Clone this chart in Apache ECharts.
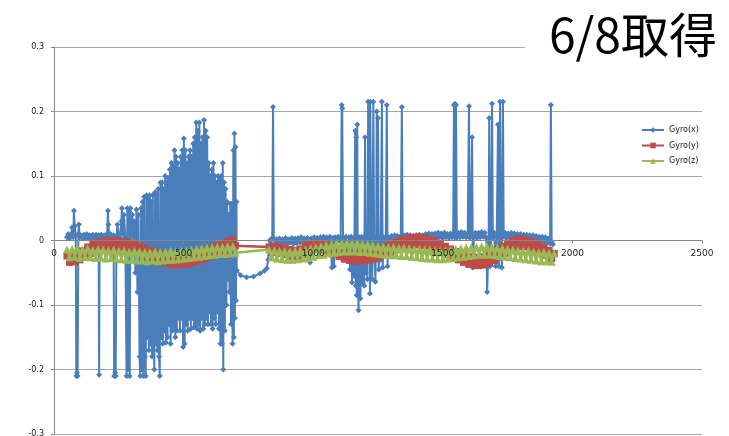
<!DOCTYPE html>
<html>
<head>
<meta charset="utf-8">
<script src="https://cdn.jsdelivr.net/npm/echarts@6/dist/echarts.min.js"></script>
<style>html,body{margin:0;padding:0;background:#fff;}#c{width:729px;height:436px;}</style>
</head>
<body>
<div id="c"></div>
<script>
// ---- data ----
var titleText = '6/8取得';
var seriesNames = ['Gyro(x)', 'Gyro(y)', 'Gyro(z)'];
var xTicks = [0, 500, 1000, 1500, 2000, 2500];
var yTicks = [-0.3, -0.2, -0.1, 0, 0.1, 0.2, 0.3];

// Gyro(x): [sample, value]
var gyroX = [
[50,0.005],[55,0.01],[60,0.003],[65,0.008],[70,0.02],[74,0.005],[77,0.046],[80,0.022],[84,0.008],[86,-0.21],[89,-0.205],[91,-0.21],[94,0.01],[96,0.025],[99,0.005],[104,0.008],[110,0.003],[115,0.009],[120,0.004],[126,0.01],[132,0.003],[138,0.008],[144,0.004],[150,0.009],[156,0.003],[162,0.009],[168,0.004],[172,0.008],[174,-0.208],[176,0.005],[182,0.009],[188,0.003],[194,0.008],[200,0.004],[205,0.01],[208,0.046],[210,0.025],[213,0.006],[218,0.01],[224,0.003],[230,0.008],[232,-0.21],[236,-0.205],[238,-0.21],[241,0.006],[245,0.025],[250,0.01],[255,0.004],[260,0.03],[262,0.05],[265,0.01],[270,0.04],[275,0.005],[280,-0.21],[283,0.05],[286,-0.2],[289,0.045],[292,-0.21],[295,0.05],[298,0.01],[302,0.04],[306,0.005],[310,0.03],[314,-0.05],[318,0.048],[322,-0.08],[326,0.04],[330,-0.18],[333,-0.21],[336,0.05],[339,-0.2],[342,0.06],[345,-0.21],[348,0.068],[351,-0.18],[354,-0.21],[357,0.07],[360,-0.15],[363,0.065],[366,-0.17],[369,0.07],[372,-0.16],[375,0.06],[378,-0.18],[381,0.07],[384,-0.12],[387,-0.2],[390,0.075],[393,-0.16],[396,0.07],[399,-0.17],[402,0.08],[405,-0.18],[408,-0.21],[411,0.09],[414,-0.15],[417,0.09],[420,-0.16],[423,0.08],[426,-0.14],[429,0.1],[432,-0.158],[435,0.09],[438,-0.15],[441,0.097],[444,-0.13],[447,0.11],[450,-0.16],[453,0.12],[456,-0.14],[459,0.115],[462,-0.135],[465,0.14],[468,-0.15],[471,0.13],[474,-0.14],[477,0.12],[480,-0.12],[483,0.11],[486,-0.14],[489,0.13],[492,-0.12],[495,0.14],[498,-0.165],[501,0.158],[504,-0.16],[507,0.14],[510,-0.13],[513,0.12],[516,-0.14],[519,0.13],[522,-0.12],[525,0.14],[528,-0.137],[531,0.13],[534,-0.12],[537,0.15],[540,-0.135],[543,0.16],[546,-0.13],[549,0.183],[552,-0.137],[555,0.17],[558,-0.13],[561,0.183],[564,-0.14],[567,0.15],[570,-0.12],[573,0.16],[576,-0.137],[579,0.187],[582,-0.13],[585,0.17],[588,-0.12],[591,0.16],[594,-0.13],[597,0.12],[600,-0.11],[603,0.1],[606,-0.13],[609,0.11],[612,-0.137],[615,0.12],[618,-0.12],[621,0.1],[624,-0.13],[627,0.09],[630,-0.11],[633,0.1],[636,-0.137],[639,0.096],[642,-0.16],[645,0.1],[648,-0.16],[651,0.12],[653,-0.2],[656,0.09],[659,-0.14],[662,0.08],[665,-0.1],[668,0.06],[671,-0.06],[674,0.04],[677,-0.08],[680,0.057],[683,-0.13],[686,0.057],[689,-0.16],[692,0.14],[694,-0.15],[696,0.166],[698,-0.12],[700,0.145],[702,-0.093],[704,0.06],
[705,-0.046],[720,-0.054],[743,-0.057],[770,-0.056],[795,-0.051],[812,-0.047],[821,-0.043],[826,-0.03],[829,-0.01],
[832,0.0],[838,-0.006],[842,0.004],[845,0.207],[848,0.003],[852,-0.008],[858,0.002],[864,-0.005],[870,0.003],[876,-0.01],[882,0.002],[888,-0.004],[894,0.004],[900,-0.006],[906,0.002],[912,-0.003],[918,0.004],[924,-0.005],[930,0.003],[936,-0.004],[942,0.004],[948,-0.003],[954,0.005],[960,-0.004],[966,0.003],[972,-0.006],[978,0.004],[984,-0.01],[988,-0.034],[992,0.003],[998,-0.004],[1004,0.005],[1010,-0.003],[1016,0.004],[1022,-0.004],[1028,0.005],[1034,-0.003],[1040,0.006],[1046,-0.002],[1052,0.005],[1058,-0.003],[1064,0.006],[1068,-0.01],[1072,-0.042],[1076,0.004],[1080,-0.04],[1084,0.005],[1090,-0.002],[1096,0.006],[1102,0.0],[1106,0.005],[1110,0.21],[1112,0.205],[1115,0.004],[1120,-0.003],[1126,0.006],[1132,-0.02],[1138,0.005],[1142,-0.045],[1146,0.006],[1150,-0.065],[1154,0.004],[1158,-0.055],[1162,0.17],[1164,-0.07],[1166,0.16],[1168,-0.085],[1170,0.18],[1172,-0.06],[1175,-0.108],[1178,0.005],[1182,-0.09],[1186,0.006],[1190,-0.065],[1194,0.005],[1197,-0.07],[1200,0.16],[1203,-0.05],[1206,0.006],[1209,-0.06],[1212,0.215],[1214,-0.03],[1216,0.2],[1219,-0.082],[1220,0.215],[1224,0.004],[1228,-0.06],[1232,0.215],[1235,0.005],[1240,-0.064],[1243,0.006],[1245,0.2],[1247,-0.03],[1250,0.19],[1253,-0.045],[1256,0.006],[1260,-0.03],[1265,0.215],[1268,-0.042],[1272,0.005],[1276,-0.02],[1280,0.004],[1284,0.21],[1287,-0.04],[1290,0.005],[1296,0.0],[1302,0.007],[1308,0.001],[1314,0.008],[1320,0.002],[1326,0.007],[1332,0.001],[1338,0.007],[1342,0.207],[1345,0.003],[1350,0.008],[1356,0.002],[1362,0.009],[1368,0.002],[1374,0.008],[1380,0.001],[1386,0.007],[1392,0.002],[1398,0.008],[1404,0.003],[1410,0.009],[1416,0.002],[1422,0.008],[1428,0.003],[1434,0.01],[1440,0.004],[1446,0.011],[1452,0.004],[1458,0.01],[1464,0.003],[1470,0.011],[1476,0.004],[1482,0.012],[1488,0.005],[1494,0.011],[1500,0.004],[1506,0.012],[1512,0.005],[1518,0.01],[1524,0.004],[1530,0.011],[1536,0.005],[1540,0.01],[1543,0.21],[1545,0.005],[1547,0.212],[1549,0.006],[1551,0.21],[1554,0.004],[1560,0.012],[1566,0.005],[1572,0.013],[1578,0.006],[1584,0.012],[1590,0.005],[1596,0.011],[1601,0.208],[1604,0.004],[1608,0.01],[1613,0.16],[1616,-0.042],[1620,0.005],[1626,0.012],[1632,0.004],[1638,0.012],[1644,0.005],[1650,0.013],[1656,0.006],[1662,0.012],[1668,0.004],[1671,-0.08],[1674,-0.04],[1677,0.005],[1679,0.19],[1682,-0.04],[1686,0.006],[1690,0.212],[1693,0.005],[1698,0.012],[1704,-0.04],[1708,0.006],[1713,0.18],[1716,-0.04],[1721,0.215],[1724,0.006],[1728,-0.042],[1732,0.215],[1735,0.006],[1740,0.012],[1746,0.004],[1752,0.011],[1758,0.005],[1764,0.012],[1770,0.004],[1776,0.011],[1782,0.004],[1788,0.01],[1794,0.003],[1800,0.01],[1806,0.003],[1812,0.009],[1818,0.002],[1824,0.009],[1830,0.002],[1836,0.008],[1842,0.001],[1848,0.008],[1854,0.0],[1860,0.007],[1866,0.0],[1872,0.006],[1878,-0.002],[1884,0.006],[1890,-0.003],[1896,0.005],[1902,-0.004],[1908,0.003],[1914,-0.005],[1917,0.21],[1920,-0.002],[1925,-0.006]
];

// sample positions shared by Gyro(y) and Gyro(z)
var sampleYZ = [
50,60,70,80,90,100,110,120,130,140,150,160,170,180,190,200,210,220,230,240,250,260,270,280,290,300,310,320,330,340,350,360,370,380,390,400,410,420,430,440,450,460,470,480,490,500,510,520,530,540,550,560,570,580,590,600,610,620,630,640,650,660,670,680,690,700,
830,840,850,860,870,880,890,900,910,920,930,940,950,960,970,980,990,1000,1010,1020,1030,1040,1050,1060,1070,1080,1090,1100,1110,1120,1130,1140,1150,1160,1170,1180,1190,1200,1210,1220,1230,1240,1250,1260,1270,1280,1290,1300,1310,1320,1330,1340,1350,1360,1370,1380,1390,1400,1410,1420,1430,1440,1450,1460,1470,1480,1490,1500,1510,1520,1530,1540,1550,1560,1570,1580,1590,1600,1610,1620,1630,1640,1650,1660,1670,1680,1690,1700,1710,1720,1730,1740,1750,1760,1770,1780,1790,1800,1810,1820,1830,1840,1850,1860,1870,1880,1890,1900,1910,1920,1930
];

var gyroY = [
-0.024,-0.034,-0.022,-0.033,-0.02,-0.03,-0.016,-0.026,-0.01,-0.02,-0.006,-0.016,-0.003,-0.013,-0.001,-0.012,0.0,-0.011,0.0,-0.012,-0.001,-0.012,-0.002,-0.013,-0.003,-0.015,-0.006,-0.018,-0.009,-0.021,-0.012,-0.024,-0.015,-0.027,-0.018,-0.031,-0.021,-0.034,-0.023,-0.036,-0.025,-0.038,-0.026,-0.038,-0.026,-0.037,-0.025,-0.036,-0.023,-0.034,-0.021,-0.032,-0.018,-0.029,-0.015,-0.026,-0.012,-0.022,-0.008,-0.018,-0.004,-0.014,-0.001,-0.011,0.002,-0.008,
-0.01,-0.019,-0.009,-0.018,-0.01,-0.02,-0.012,-0.022,-0.014,-0.025,-0.015,-0.025,-0.013,-0.022,-0.008,-0.017,-0.005,-0.014,-0.004,-0.014,-0.005,-0.015,-0.007,-0.017,-0.01,-0.021,-0.014,-0.025,-0.018,-0.029,-0.02,-0.031,-0.021,-0.032,-0.021,-0.032,-0.02,-0.031,-0.019,-0.03,-0.017,-0.028,-0.014,-0.025,-0.011,-0.022,-0.008,-0.018,-0.004,-0.014,-0.001,-0.011,0.002,-0.009,0.004,-0.008,0.005,-0.007,0.005,-0.008,0.004,-0.009,0.002,-0.011,-0.001,-0.014,-0.005,-0.018,-0.009,-0.022,-0.013,-0.026,-0.017,-0.03,-0.02,-0.034,-0.023,-0.037,-0.025,-0.039,-0.026,-0.039,-0.025,-0.038,-0.023,-0.035,-0.019,-0.031,-0.014,-0.026,-0.009,-0.02,-0.004,-0.015,0.0,-0.012,0.002,-0.01,0.002,-0.01,0.0,-0.012,-0.003,-0.015,-0.007,-0.019,-0.011,-0.023,-0.015,-0.028,-0.02
];

var gyroZ = [
-0.014,-0.026,-0.013,-0.025,-0.012,-0.027,-0.014,-0.025,-0.012,-0.026,-0.015,-0.027,-0.013,-0.026,-0.014,-0.028,-0.015,-0.027,-0.014,-0.028,-0.016,-0.029,-0.015,-0.03,-0.017,-0.03,-0.016,-0.031,-0.017,-0.031,-0.018,-0.032,-0.018,-0.031,-0.017,-0.032,-0.018,-0.031,-0.017,-0.03,-0.016,-0.03,-0.017,-0.029,-0.016,-0.028,-0.015,-0.027,-0.014,-0.026,-0.013,-0.025,-0.012,-0.024,-0.011,-0.023,-0.011,-0.022,-0.01,-0.021,-0.01,-0.021,-0.009,-0.02,-0.009,-0.019,
-0.014,-0.026,-0.015,-0.028,-0.016,-0.029,-0.016,-0.03,-0.017,-0.03,-0.016,-0.029,-0.015,-0.028,-0.014,-0.027,-0.012,-0.025,-0.011,-0.023,-0.009,-0.022,-0.007,-0.02,-0.006,-0.019,-0.004,-0.018,-0.004,-0.017,-0.003,-0.017,-0.004,-0.017,-0.004,-0.018,-0.005,-0.018,-0.006,-0.019,-0.007,-0.02,-0.008,-0.021,-0.009,-0.022,-0.01,-0.023,-0.01,-0.023,-0.011,-0.024,-0.011,-0.024,-0.012,-0.025,-0.013,-0.026,-0.013,-0.027,-0.014,-0.028,-0.014,-0.028,-0.015,-0.029,-0.015,-0.029,-0.015,-0.028,-0.014,-0.027,-0.013,-0.026,-0.012,-0.025,-0.011,-0.024,-0.01,-0.023,-0.01,-0.022,-0.009,-0.022,-0.009,-0.022,-0.01,-0.023,-0.011,-0.024,-0.012,-0.025,-0.013,-0.026,-0.014,-0.027,-0.015,-0.028,-0.016,-0.029,-0.016,-0.03,-0.017,-0.031,-0.018,-0.032,-0.018,-0.032,-0.019,-0.033,-0.02
];

// ---- chart ----
function pairs(xs, ys) { return xs.map(function (x, i) { return [x, ys[i]]; }); }
var FONT = 'DejaVu Sans';
var GRID_TOP = 47, GRID_BOTTOM = 2, H = 436;
var plotH = H - GRID_TOP - GRID_BOTTOM;
// the x axis sits on y = 0 (middle of the symmetric y range)
var zeroOffset = -plotH * (0 - yTicks[0]) / (yTicks[yTicks.length - 1] - yTicks[0]);
var chart = echarts.init(document.getElementById('c'), null, { renderer: 'canvas' });
var baseSeries = {
  type: 'line', showSymbol: true, showAllSymbol: true, sampling: null,
  animation: false, emphasis: { disabled: true }, silent: true
};
chart.setOption({
  animation: false,
  backgroundColor: '#ffffff',
  title: {
    text: titleText, right: 0, top: 4,
    backgroundColor: '#ffffff', padding: [6, 12, 8, 24],
    textStyle: { fontFamily: 'Noto Sans CJK JP', fontSize: 48, fontWeight: 'normal', color: '#000', lineHeight: 50 }
  },
  legend: {
    orient: 'vertical', left: 636, top: 121,
    itemWidth: 22, itemHeight: 7, itemGap: 7.5,
    textStyle: { fontFamily: FONT, fontSize: 8, color: '#222' },
    data: seriesNames
  },
  grid: { left: 54, right: 27, top: GRID_TOP, bottom: GRID_BOTTOM, containLabel: false, outerBoundsMode: 'none' },
  xAxis: {
    type: 'value', position: 'bottom', offset: zeroOffset, z: 10,
    min: xTicks[0], max: xTicks[xTicks.length - 1], interval: 500,
    axisLine: { onZero: false, lineStyle: { color: '#868686', width: 1 } },
    axisTick: { show: true, length: 3, lineStyle: { color: '#868686' } },
    axisLabel: { margin: 9, fontFamily: FONT, fontSize: 9, color: '#222',
      formatter: function (v) { return String(v); } },
    splitLine: { show: false }
  },
  yAxis: {
    type: 'value', min: yTicks[0], max: yTicks[yTicks.length - 1], interval: 0.1,
    axisLine: { show: true, onZero: false, lineStyle: { color: '#868686', width: 1 } },
    axisTick: { show: true, length: 3, lineStyle: { color: '#868686' } },
    axisLabel: { margin: 10, fontFamily: FONT, fontSize: 8, color: '#222',
      formatter: function (v) { return String(Math.round(v * 10) / 10); } },
    splitLine: { show: true, lineStyle: { color: '#a6a6a6', width: 1 } }
  },
  series: [
    Object.assign({}, baseSeries, {
      name: seriesNames[0], data: gyroX, z: 2,
      symbol: 'diamond', symbolSize: 6,
      itemStyle: { color: '#4a7ebb' }, lineStyle: { color: '#4a7ebb', width: 2 }
    }),
    Object.assign({}, baseSeries, {
      name: seriesNames[1], data: pairs(sampleYZ, gyroY), z: 3,
      symbol: 'rect', symbolSize: 7,
      itemStyle: { color: '#be4b48' }, lineStyle: { color: '#be4b48', width: 2.5 }
    }),
    Object.assign({}, baseSeries, {
      name: seriesNames[2], data: pairs(sampleYZ, gyroZ), z: 4,
      symbol: 'triangle', symbolSize: 8,
      itemStyle: { color: '#98b954' }, lineStyle: { color: '#98b954', width: 2.5 }
    })
  ]
});
</script>
</body>
</html>
